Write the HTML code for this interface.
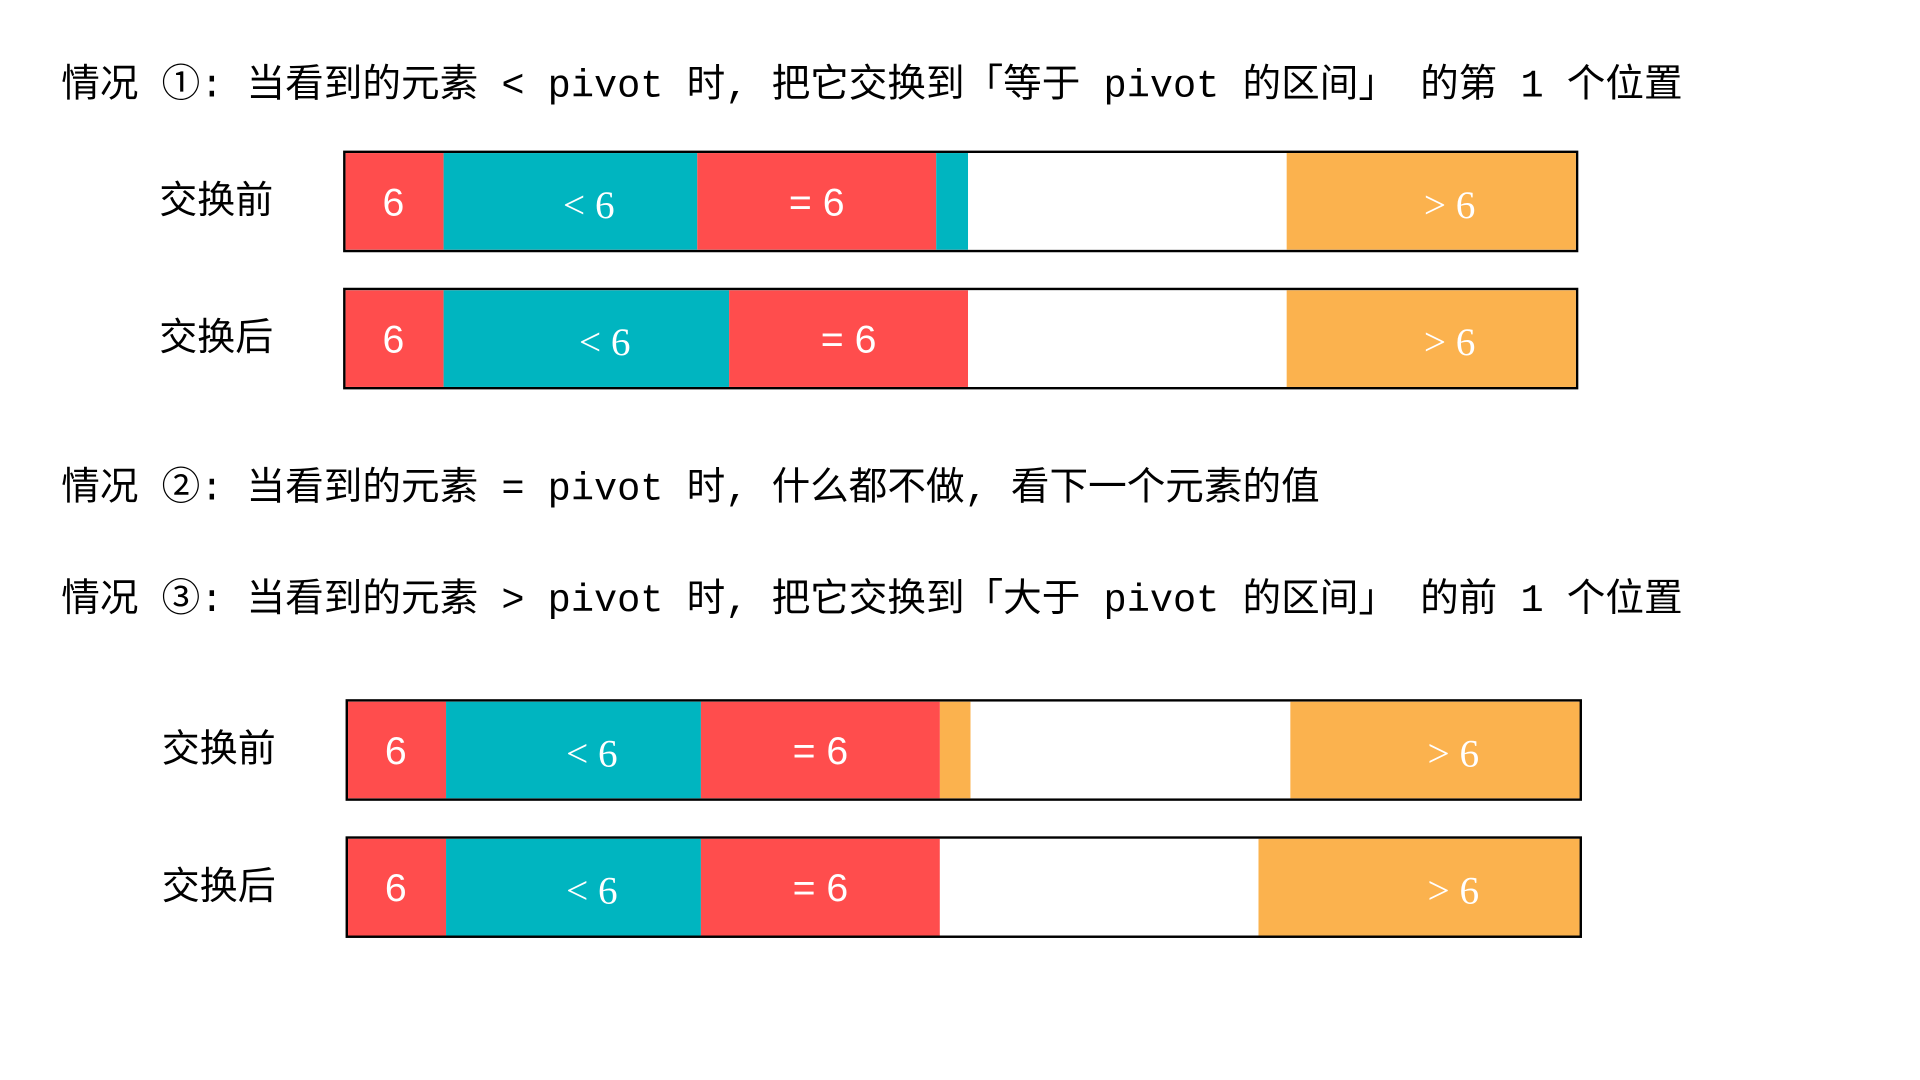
<!DOCTYPE html>
<html><head><meta charset="utf-8">
<style>
html,body{margin:0;padding:0;background:#fff;width:1920px;height:1080px;overflow:hidden}
#stage{position:absolute;left:0;top:0;width:1552px;height:882px;transform-origin:0 0;transform:scale(1.2254,1.22449);}
.t{position:absolute;left:50px;font-family:"Liberation Mono","Noto Sans CJK SC",monospace;font-size:31.5px;line-height:40px;white-space:pre;color:#000}
.lab{position:absolute;font-family:"Liberation Sans","Noto Sans CJK SC",sans-serif;font-size:31px;line-height:40px;color:#000;font-weight:400}
.bar{position:absolute;border:2px solid #000;box-sizing:border-box;background:#fff;overflow:hidden}
.seg{position:absolute;top:0;bottom:0}
.txt{position:absolute;color:#fff;font-size:32px;line-height:40px;white-space:pre;transform:translate(-50%,-50%);top:50%}
.sans{font-family:"Liberation Sans","DejaVu Sans",sans-serif}
.serif{font-family:"Liberation Serif",serif}
</style></head><body>
<div id="stage">
<div class="t" style="top:52px">情况 ①: 当看到的元素 &lt; pivot 时, 把它交换到「等于 pivot 的区间」 的第 1 个位置</div>
<div class="t" style="top:381px">情况 ②: 当看到的元素 = pivot 时, 什么都不做, 看下一个元素的值</div>
<div class="t" style="top:472px">情况 ③: 当看到的元素 &gt; pivot 时, 把它交换到「大于 pivot 的区间」 的前 1 个位置</div>
</div>
<script>
// Segment boundaries (in diagram units) per row
const rowNames = ["case1-before","case1-after","case3-before","case3-after"];
const rowLabels = ["交换前","交换后","交换前","交换后"];
const rowLeft = [280,280,282,282];
const rowTop = [123,235,571,683];
const row1Edges = [280,362,569,764,790,1050,1288];
const row2Edges = [280,362,595,790,1050,1288];
const row3Edges = [282,364,572,767,792,1053,1291];
const row4Edges = [282,364,572,767,1027,1291];
const row1Kinds = ["pivot","lt","eq","lt","un","gt"];
const row2Kinds = ["pivot","lt","eq","un","gt"];
const row3Kinds = ["pivot","lt","eq","gt","un","gt"];
const row4Kinds = ["pivot","lt","eq","un","gt"];
const allEdges=[row1Edges,row2Edges,row3Edges,row4Edges];
const allKinds=[row1Kinds,row2Kinds,row3Kinds,row4Kinds];
const colors={pivot:"#FF4D4D",lt:"#00B5C0",eq:"#FF4D4D",un:"#FFFFFF",gt:"#FBB24E"};
const stage=document.getElementById('stage');
const H=83;
for(let r=0;r<4;r++){
  const e=allEdges[r],k=allKinds[r];
  const L=e[0],R=e[e.length-1];
  const lab=document.createElement('div');
  lab.className='lab';
  
  
  lab.textContent=rowLabels[r];
  lab.style.left=(L-150)+'px';lab.style.top=(rowTop[r]+H/2-21)+'px';
  stage.appendChild(lab);
  const bar=document.createElement('div');
  bar.className='bar';
  
  
  bar.style.left=L+'px';bar.style.top=rowTop[r]+'px';bar.style.width=(R-L)+'px';bar.style.height=H+'px';
  stage.appendChild(bar);
  let seenLt=false,seenEq=false;
  for(let i=0;i<k.length;i++){
    const s=document.createElement('div');
    s.className='seg';
    
    
    const x0=e[i]-L-2,x1=e[i+1]-L-2;
    s.style.left=Math.max(0,x0)+'px';s.style.width=(x1-Math.max(0,x0))+'px';
    s.style.background=colors[k[i]];
    bar.appendChild(s);
    let text=null,cls='sans',cx=(e[i]+e[i+1])/2-L-2;
    if(k[i]==='pivot'){text='6';}
    else if(k[i]==='lt'&&!seenLt&&x1-x0>60){text='< 6';cls='serif';cx+=15;seenLt=true;}
    else if(k[i]==='eq'&&!seenEq){text='= 6';seenEq=true;}
    else if(k[i]==='gt'&&x1-x0>60){text='> 6';cls='serif';cx=R-L-107;}
    if(text){
      const t=document.createElement('div');
      t.className='txt '+cls;
      
      
      t.textContent=text;t.style.left=cx+'px';
      if(cls==='serif') t.style.marginTop='2px';
      s.parentNode.appendChild(t);
    }
  }
}
</script>
</body></html>
